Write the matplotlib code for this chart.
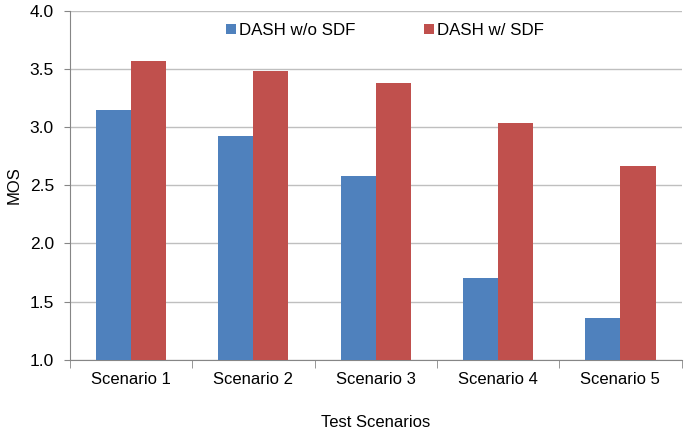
import numpy as np
import matplotlib.pyplot as plt

# Dữ liệu
categories = ["Scenario 1", "Scenario 2", "Scenario 3", "Scenario 4", "Scenario 5"]
mos_without_sdf = [3.15, 2.92, 2.58, 1.70, 1.36]
mos_with_sdf = [3.57, 3.48, 3.38, 3.04, 2.67]
series_names = ["DASH w/o SDF", "DASH w/ SDF"]

plt.rcParams["font.family"] = ["Liberation Sans", "DejaVu Sans"]

fig = plt.figure(figsize=(6.85, 4.33), dpi=100)
ax = fig.add_axes([0.102, 0.169, 0.893, 0.806])

x = np.arange(len(categories))
w = 0.287
ax.bar(x - w / 2, mos_without_sdf, w, color="#4F81BD", label=series_names[0], zorder=3)
ax.bar(x + w / 2, mos_with_sdf, w, color="#C0504D", label=series_names[1], zorder=3)

ax.set_ylim(1.0, 4.0)
ax.set_yticks(np.arange(1.0, 4.01, 0.5))
ax.set_yticklabels([f"{v:.1f}" for v in np.arange(1.0, 4.01, 0.5)], fontsize=12.5)
ax.set_xlim(-0.5, len(categories) - 0.5)
ax.set_xticks(x)
ax.set_xticklabels(categories, fontsize=12)
ax.tick_params(axis="x", length=0, pad=9)
ax.set_xticks(np.arange(-0.5, len(categories)), minor=True)
ax.tick_params(axis="x", which="minor", length=6, color="#868686")
ax.tick_params(axis="y", length=4.5, color="#868686", pad=7)

ax.grid(axis="y", color="#BFBFBF", linewidth=1, zorder=0)
for s in ["top", "right"]:
    ax.spines[s].set_visible(False)
for s in ["left", "bottom"]:
    ax.spines[s].set_color("#868686")

ax.set_xlabel("Test Scenarios", fontsize=12, labelpad=20)
ax.set_ylabel("MOS", fontsize=12, labelpad=6)

ax.legend(loc="center", bbox_to_anchor=(0.515, 0.944), ncol=2, frameon=False,
          fontsize=12.2, handlelength=0.6, handleheight=0.6, handletextpad=0.2,
          columnspacing=4.0)

fig.savefig("out.png", dpi=100)
